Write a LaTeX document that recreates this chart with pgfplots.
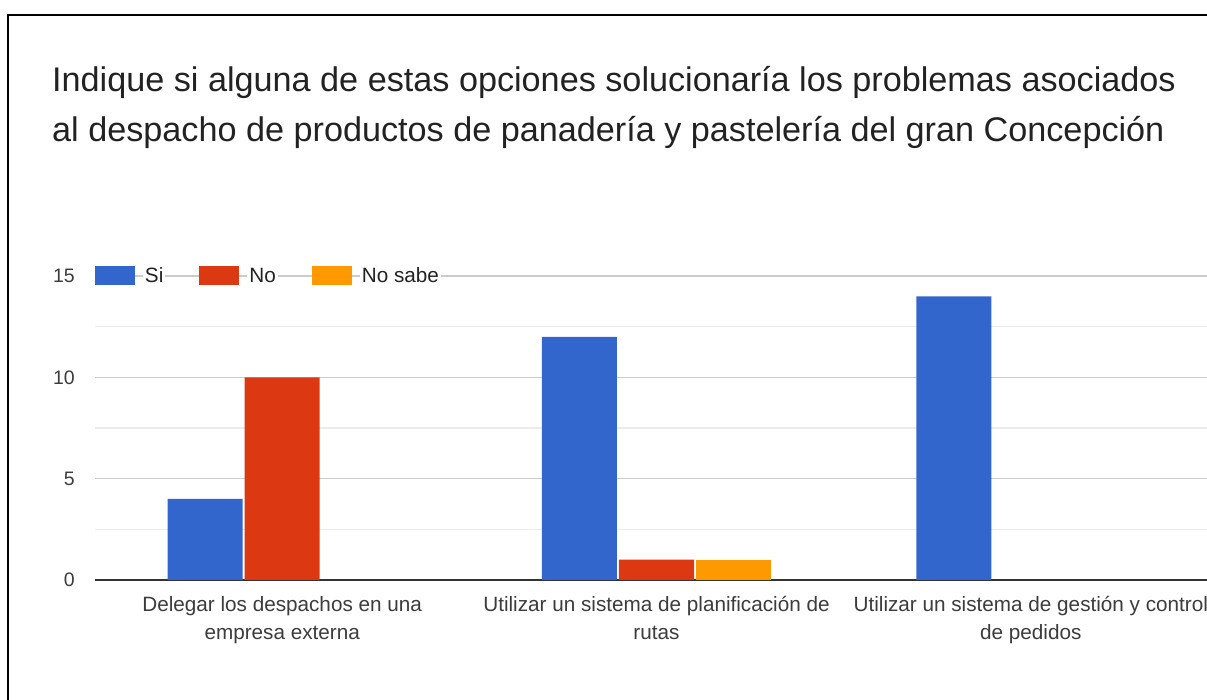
\documentclass[border=0pt]{standalone}
\usepackage{pgfplots}
\pgfplotsset{compat=1.18}
\usepackage{fontspec}
\setmainfont{Liberation Sans}
\definecolor{cSi}{HTML}{3366CC}
\definecolor{cNo}{HTML}{DC3912}
\definecolor{cNS}{HTML}{FF9900}
\definecolor{txt}{HTML}{222222}
\definecolor{lab}{HTML}{3C3C3C}
\definecolor{gmaj}{HTML}{CCCCCC}
\definecolor{gmin}{HTML}{EBEBEB}
\definecolor{base}{HTML}{333333}
\begin{document}
\begin{tikzpicture}[x=1pt,y=1pt]
\path[use as bounding box] (0,0) rectangle (1207,700);
\clip (0,0) rectangle (1207,700);
\fill[white] (0,0) rectangle (1207,700);
\draw[line width=2pt, black] (8,-5) -- (8,685) -- (1215,685);
\node[anchor=base west, inner sep=0pt, text=txt, font=\fontsize{34.2}{40}\selectfont] at (52,608) {Indique si alguna de estas opciones solucionaría los problemas asociados};
\node[anchor=base west, inner sep=0pt, text=txt, font=\fontsize{34.2}{40}\selectfont] at (52,558) {al despacho de productos de panadería y pastelería del gran Concepción};
\begin{axis}[
  at={(95pt,120pt)}, anchor=south west,
  scale only axis, width=1123pt, height=304pt,
  xmin=-0.5, xmax=2.5, ymin=0, ymax=15,
  ybar=2pt, bar width=75pt,
  axis line style={draw=none},
  xtick={0,1,2},
  xticklabels={{Delegar los despachos en una\\empresa externa},{Utilizar un sistema de planificación de\\rutas},{Utilizar un sistema de gestión y control\\de pedidos}},
  xticklabel style={align=center, anchor=north, inner sep=0pt, yshift=-16pt, text=lab, font=\fontsize{20.7}{28}\selectfont},
  ytick={0,5,10,15},
  yticklabels={0,5,10,15},
  yticklabel style={anchor=east, inner sep=0pt, xshift=-20pt, text=lab, font=\fontsize{19.5}{23}\selectfont},
  minor ytick={2.5,7.5,12.5},
  ymajorgrids, yminorgrids,
  major grid style={gmaj, line width=1.3pt},
  minor grid style={gmin, line width=1.3pt},
  major tick length=0pt, minor tick length=0pt,
  extra y ticks={0}, extra y tick labels={},
  extra y tick style={major grid style={base, line width=1.8pt}},
  legend style={at={(0,1)}, anchor=west, draw=none, fill=none, inner sep=0pt, outer sep=0pt,
    legend columns=-1, font=\fontsize{20.7}{24}\selectfont, text=txt,
    nodes={fill=white, inner xsep=2pt, inner ysep=1pt},
    /tikz/every odd column/.append style={column sep=8pt},
    /tikz/every even column/.append style={column sep=34pt}},
  legend image code/.code={\fill[#1] (0pt,-9.5pt) rectangle (40pt,9.5pt);},
]
\addplot[fill=cSi, draw=none] coordinates {(0,4) (1,12) (2,14)};
\addplot[fill=cNo, draw=none] coordinates {(0,10) (1,1)};
\addplot[fill=cNS, draw=none] coordinates {(1,1)};
\legend{Si,No,No sabe}
\end{axis}
\end{tikzpicture}
\end{document}
